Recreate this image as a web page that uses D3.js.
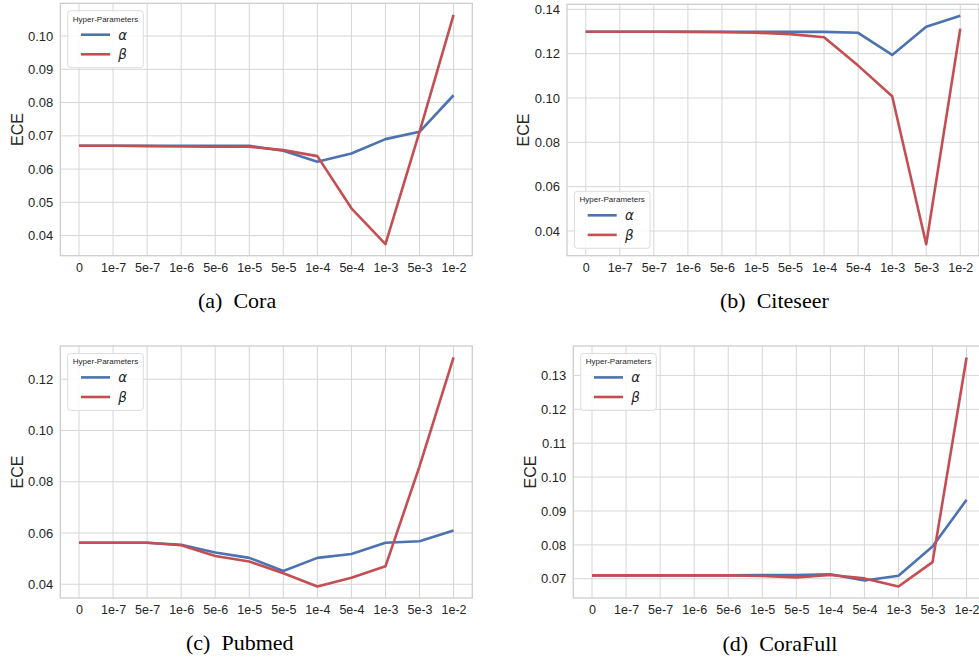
<!DOCTYPE html>
<html>

<head>
    <meta charset="UTF-8">
    <title>ECE vs hyper-parameters</title>
    <script src="https://d3js.org/d3.v7.min.js"></script>
    <style>
        body {
            margin: 0;
            background: #ffffff;
        }
    </style>
</head>

<body>
    <script>
        // categories on x axis
        var categories = ["0", "1e-7", "5e-7", "1e-6", "5e-6", "1e-5", "5e-5", "1e-4", "5e-4", "1e-3", "5e-3", "1e-2"];

        // Cora
        var coraAlpha = [0.0670, 0.0670, 0.0670, 0.0670, 0.0670, 0.0670, 0.0655, 0.0622, 0.0647, 0.0690, 0.0712, 0.0822];
        var coraBeta = [0.0670, 0.0670, 0.0669, 0.0668, 0.0667, 0.0667, 0.0657, 0.0639, 0.0482, 0.0374, 0.0712, 0.1064];
        var coraTicks = [0.04, 0.05, 0.06, 0.07, 0.08, 0.09, 0.10];

        // Citeseer
        var citeAlpha = [0.1299, 0.1299, 0.1299, 0.1299, 0.1299, 0.1299, 0.1298, 0.1298, 0.1294, 0.1194, 0.1321, 0.1371];
        var citeBeta = [0.1299, 0.1299, 0.1299, 0.1298, 0.1297, 0.1294, 0.1288, 0.1274, 0.1146, 0.1008, 0.0340, 0.1313];
        var citeTicks = [0.04, 0.06, 0.08, 0.10, 0.12, 0.14];

        // Pubmed
        var pubAlpha = [0.0562, 0.0562, 0.0562, 0.0554, 0.0524, 0.0503, 0.0452, 0.0503, 0.0518, 0.0562, 0.0568, 0.0610];
        var pubBeta = [0.0562, 0.0562, 0.0562, 0.0552, 0.0510, 0.0489, 0.0443, 0.0391, 0.0425, 0.0470, 0.0860, 0.1285];
        var pubTicks = [0.04, 0.06, 0.08, 0.10, 0.12];

        // CoraFull
        var fullAlpha = [0.0710, 0.0710, 0.0710, 0.0710, 0.0710, 0.0711, 0.0711, 0.0713, 0.0695, 0.0709, 0.0795, 0.0933];
        var fullBeta = [0.0710, 0.0710, 0.0710, 0.0710, 0.0710, 0.0708, 0.0704, 0.0711, 0.0701, 0.0677, 0.0749, 0.1353];
        var fullTicks = [0.07, 0.08, 0.09, 0.10, 0.11, 0.12, 0.13];

        var seriesNames = ["\u03b1", "\u03b2"];
        var seriesColors = ["#4c72b0", "#c44e52"];

        var width = 979;
        var height = 658;

        var svg = d3.select("body").append("svg")
            .attr("width", width).attr("height", height)
            .style("display", "block");

        // one panel = one small seaborn-like axes
        function drawPanel(p) {
            var g = svg.append("g").attr("transform", "translate(" + p.left + "," + p.top + ")");
            var w = p.w, h = p.h;

            var all = p.alpha.concat(p.beta);
            var lo = d3.min(all), hi = d3.max(all);
            var pad = (hi - lo) * 0.05;

            var x = d3.scalePoint().domain(categories).range([0, w]).padding(0.55);
            var y = d3.scaleLinear().domain([lo - pad, hi + pad]).range([h, 0]);

            // grid
            g.append("g").selectAll("line").data(p.ticks).enter().append("line")
                .attr("x1", 0).attr("x2", w)
                .attr("y1", function (d) { return y(d); }).attr("y2", function (d) { return y(d); })
                .attr("stroke", "#d6d6d6").attr("stroke-width", 1);
            g.append("g").selectAll("line").data(categories).enter().append("line")
                .attr("y1", 0).attr("y2", h)
                .attr("x1", function (d) { return x(d); }).attr("x2", function (d) { return x(d); })
                .attr("stroke", "#d6d6d6").attr("stroke-width", 1);

            // frame
            g.append("rect").attr("width", w).attr("height", h)
                .attr("fill", "none").attr("stroke", "#cccccc").attr("stroke-width", 1.25);

            // y axis (no tick marks, like whitegrid)
            var yAxis = d3.axisLeft(y).tickValues(p.ticks).tickSize(0).tickPadding(7)
                .tickFormat(d3.format(".2f"));
            var ya = g.append("g").call(yAxis);
            ya.select(".domain").remove();
            ya.selectAll("text").attr("font-family", "Liberation Sans, Arial, sans-serif")
                .attr("font-size", 13).attr("fill", "#262626");

            var xAxis = d3.axisBottom(x).tickSize(0).tickPadding(7);
            var xa = g.append("g").attr("transform", "translate(0," + h + ")").call(xAxis);
            xa.select(".domain").remove();
            xa.selectAll("text").attr("font-family", "Liberation Sans, Arial, sans-serif")
                .attr("font-size", 12.5).attr("fill", "#262626");

            // ylabel
            g.append("text")
                .attr("transform", "translate(-43.5," + (h / 2) + ") rotate(-90)")
                .attr("dy", "0.36em")
                .attr("text-anchor", "middle")
                .attr("font-family", "Liberation Sans, Arial, sans-serif")
                .attr("font-size", 16).attr("fill", "#262626")
                .text("ECE");

            // lines
            var line = d3.line()
                .x(function (d, i) { return x(categories[i]); })
                .y(function (d) { return y(d); });
            [p.alpha, p.beta].forEach(function (s, k) {
                g.append("path").datum(s)
                    .attr("d", line)
                    .attr("fill", "none")
                    .attr("stroke", seriesColors[k])
                    .attr("stroke-width", 2.6)
                    .attr("stroke-linejoin", "round");
            });

            // legend
            var lw = 75.6, lh = 57;
            var lx = 7.4;
            var ly = p.legend === "lower" ? h - 7.4 - lh : 7.4;
            var lg = g.append("g").attr("transform", "translate(" + lx + "," + ly + ")");
            lg.append("rect").attr("width", lw).attr("height", lh)
                .attr("rx", 3).attr("ry", 3)
                .attr("fill", "#ffffff").attr("fill-opacity", 0.85)
                .attr("stroke", "#dcdcdc").attr("stroke-width", 1);
            lg.append("text").attr("x", lw / 2).attr("y", 11)
                .attr("text-anchor", "middle")
                .attr("font-family", "Liberation Sans, Arial, sans-serif")
                .attr("font-size", 8).attr("fill", "#262626")
                .text("Hyper-Parameters");
            seriesNames.forEach(function (name, k) {
                var yy = 24 + k * 19.6;
                lg.append("line").attr("x1", 13.3).attr("x2", 42.3)
                    .attr("y1", yy).attr("y2", yy)
                    .attr("stroke", seriesColors[k]).attr("stroke-width", 2.6);
                lg.append("text").attr("x", 50.5).attr("y", yy).attr("dy", "0.36em")
                    .attr("font-family", "DejaVu Sans, sans-serif")
                    .attr("font-style", "italic")
                    .attr("font-size", 13.5).attr("fill", "#262626")
                    .text(name);
            });
        }

        function caption(cx, cy, tag, name) {
            var t = svg.append("text").attr("x", cx).attr("y", cy)
                .attr("font-family", "Liberation Serif, Times New Roman, serif")
                .attr("font-size", 22).attr("fill", "#000000");
            t.append("tspan").text(tag);
            t.append("tspan").attr("dx", 11).text(name);
        }

        drawPanel({ left: 60.3, top: 3.3, w: 412, h: 252.4, alpha: coraAlpha, beta: coraBeta, ticks: coraTicks, legend: "upper" });
        drawPanel({ left: 567, top: 4.3, w: 412, h: 251.4, alpha: citeAlpha, beta: citeBeta, ticks: citeTicks, legend: "lower" });
        drawPanel({ left: 60.3, top: 346, w: 412, h: 252, alpha: pubAlpha, beta: pubBeta, ticks: pubTicks, legend: "upper" });
        drawPanel({ left: 573.3, top: 346, w: 412, h: 252, alpha: fullAlpha, beta: fullBeta, ticks: fullTicks, legend: "upper" });

        caption(198, 308, "(a)", "Cora");
        caption(720, 308, "(b)", "Citeseer");
        caption(186, 650, "(c)", "Pubmed");
        caption(722.5, 651, "(d)", "CoraFull");
    </script>
</body>

</html>
